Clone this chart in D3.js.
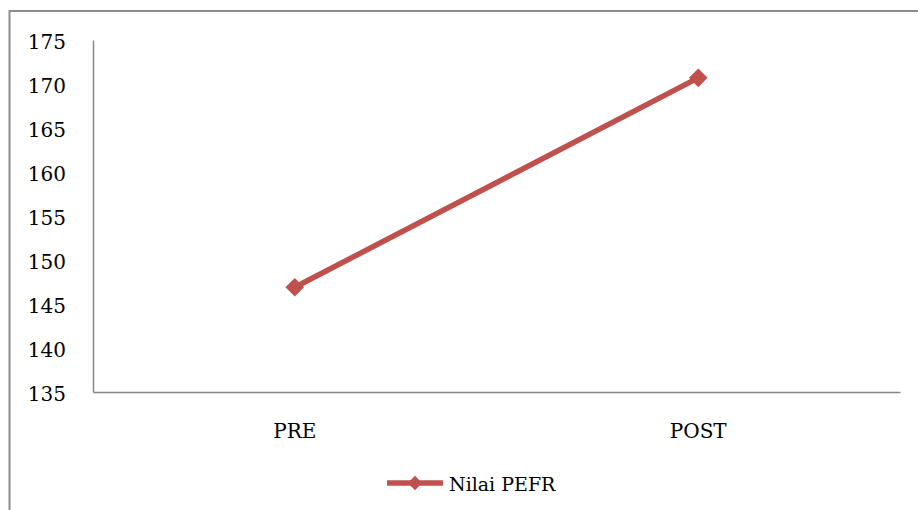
<!DOCTYPE html>
<html><head><meta charset="utf-8">
<script src="https://cdn.jsdelivr.net/npm/d3@7"></script>
<style>body{margin:0;background:#fff}svg{display:block}</style>
</head><body>
<svg id="c" width="918" height="510"></svg>
<script>
const categories = ["PRE", "POST"];
const values = [146.9, 170.7];
const yTicks = [135, 140, 145, 150, 155, 160, 165, 170, 175];
const seriesName = "Nilai PEFR";

(function () {
const svg = d3.select("#c");
const font = "'DejaVu Serif', serif";
const color = "#C0504D";
const axisColor = "#868686";

// outer frame
svg.append("rect").attr("x", 9.5).attr("y", 11).attr("width", 940).attr("height", 540)
  .attr("fill", "none").attr("stroke", "#8c8c8c").attr("stroke-width", 2);

const mLeft = 93, mRight = 900, mTop = 40, mBottom = 392;
const x = d3.scaleBand().domain(categories).range([mLeft, mRight]);
const y = d3.scaleLinear().domain([135, 175]).range([mBottom, mTop]);

// y axis
const ya = svg.append("g").attr("transform", `translate(${mLeft},0)`)
  .call(d3.axisLeft(y).tickValues(yTicks).tickSize(0).tickPadding(27).tickFormat(d3.format("d")));
ya.select(".domain").attr("stroke", axisColor).attr("stroke-width", 1.5);
ya.selectAll("text").attr("font-family", font).attr("font-size", 20).attr("fill", "#000")
  .attr("dy", "0.4em");

// x axis
const xa = svg.append("g").attr("transform", `translate(0,${mBottom})`)
  .call(d3.axisBottom(x).tickSize(0).tickPadding(32));
xa.select(".domain").attr("stroke", axisColor).attr("stroke-width", 1.5);
xa.selectAll("text").attr("font-family", font).attr("font-size", 20).attr("fill", "#000");

const pts = categories.map((c, i) => [x(c) + x.bandwidth() / 2, y(values[i])]);
svg.append("path").attr("d", d3.line()(pts)).attr("fill", "none")
  .attr("stroke", color).attr("stroke-width", 5.5);
const diamond = d3.symbol().type(d3.symbolDiamond2).size(220);
svg.selectAll(".m").data(pts).join("path")
  .attr("transform", d => `translate(${d[0]},${d[1]})`)
  .attr("d", diamond).attr("fill", color);

// legend
const ly = 483;
svg.append("line").attr("x1", 387).attr("x2", 443).attr("y1", ly).attr("y2", ly)
  .attr("stroke", color).attr("stroke-width", 5.5);
svg.append("path").attr("transform", `translate(415,${ly})`)
  .attr("d", d3.symbol().type(d3.symbolDiamond2).size(130)).attr("fill", color);
svg.append("text").attr("x", 449).attr("y", ly + 8).text(seriesName)
  .attr("font-family", font).attr("font-size", 19).attr("fill", "#000");
})();
</script>
</body></html>
